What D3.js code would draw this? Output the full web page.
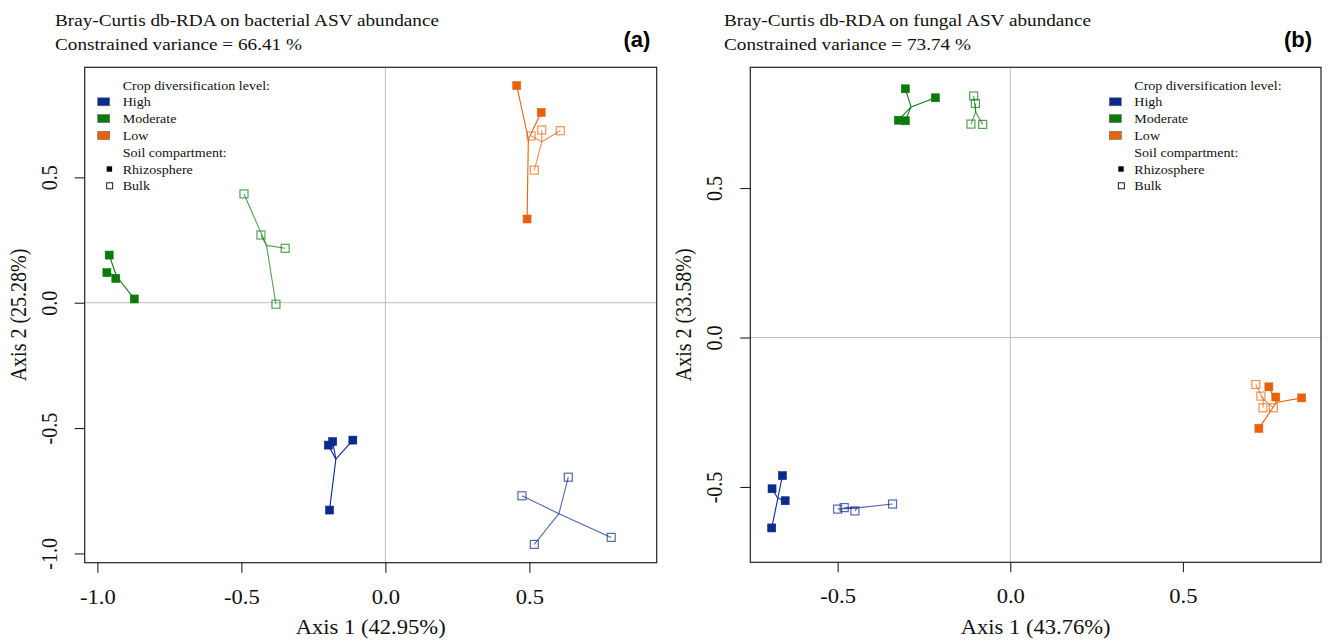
<!DOCTYPE html>
<html>
<head>
<meta charset="utf-8">
<script src="https://cdn.jsdelivr.net/npm/d3@7"></script>
<style>
  body { margin: 0; background: #fff; }
  text { font-family: "Liberation Serif", "Times New Roman", serif; fill: #111; }
  text.tag { font-family: "Liberation Sans", Arial, sans-serif; font-weight: bold; fill: #000; }
</style>
</head>
<body>
<svg id="viz" width="1327" height="640"></svg>
<script>
// db-RDA site scores: [Axis 1, Axis 2]

// bacterial
const bactHighRhizo = [[-0.198, -0.568], [-0.183, -0.554], [-0.113, -0.548], [-0.194, -0.827]];
const bactHighBulk  = [[0.474, -0.770], [0.635, -0.696], [0.784, -0.936], [0.517, -0.964]];
const bactModRhizo  = [[-0.959, 0.190], [-0.967, 0.120], [-0.936, 0.097], [-0.872, 0.015]];
const bactModBulk   = [[-0.491, 0.434], [-0.432, 0.270], [-0.348, 0.217], [-0.380, -0.006]];
const bactLowRhizo  = [[0.456, 0.866], [0.541, 0.759], [0.492, 0.334]];
const bactLowBulk   = [[0.506, 0.665], [0.543, 0.689], [0.607, 0.686], [0.517, 0.529]];

// fungal
const fungHighRhizo = [[-0.660, -0.462], [-0.690, -0.506], [-0.652, -0.546], [-0.691, -0.637]];
const fungHighBulk  = [[-0.500, -0.574], [-0.481, -0.569], [-0.450, -0.580], [-0.341, -0.557]];
const fungModRhizo  = [[-0.304, 0.832], [-0.217, 0.802], [-0.324, 0.727], [-0.304, 0.725]];
const fungModBulk   = [[-0.106, 0.808], [-0.101, 0.783], [-0.114, 0.714], [-0.080, 0.713]];
const fungLowRhizo  = [[0.749, -0.165], [0.769, -0.199], [0.844, -0.202], [0.720, -0.304]];
const fungLowBulk   = [[0.711, -0.157], [0.726, -0.196], [0.732, -0.235], [0.762, -0.235]];

const levels = ["High", "Moderate", "Low"];
const compartments = ["Rhizosphere", "Bulk"];

// axis limits and ticks
const bactXLim = [-1.044, 0.942], bactYLim = [-1.037, 0.939];
const fungXLim = [-0.753, 0.900], fungYLim = [-0.752, 0.904];
const bactXTicks = [-1.0, -0.5, 0.0, 0.5], bactYTicks = [-1.0, -0.5, 0.0, 0.5];
const fungXTicks = [-0.5, 0.0, 0.5], fungYTicks = [-0.5, 0.0, 0.5];

const bactTitle = ["Bray-Curtis db-RDA on bacterial ASV abundance", "Constrained variance = 66.41 %"];
const fungTitle = ["Bray-Curtis db-RDA on fungal ASV abundance", "Constrained variance = 73.74 %"];
const bactAxisLabels = ["Axis 1 (42.95%)", "Axis 2 (25.28%)"];
const fungAxisLabels = ["Axis 1 (43.76%)", "Axis 2 (33.58%)"];

var svg = d3.select("#viz");
var SX = 1.13; // the figure is a bit stretched sideways
var colors = { High: "#0a2a8c", Moderate: "#0b7a0b", Low: "#e8620c" };

const fmt = d => d.toFixed(1);

function stext(g, x, y, str, size, anchor, rot, sx) {
    return g.append("text")
        .attr("transform", `translate(${x},${y}) scale(${sx || SX},1)` + (rot ? " rotate(-90)" : ""))
        .attr("text-anchor", anchor || "start")
        .attr("font-size", size)
        .text(str);
}

function drawPanel(cfg) {
    var x = d3.scaleLinear().domain(cfg.xlim).range([cfg.box[0], cfg.box[1]]);
    var y = d3.scaleLinear().domain(cfg.ylim).range([cfg.box[3], cfg.box[2]]);
    var g = svg.append("g");

    // reference lines
    g.append("line").attr("x1", x(0)).attr("x2", x(0)).attr("y1", cfg.box[2]).attr("y2", cfg.box[3])
        .attr("stroke", "#bdbdbd").attr("stroke-width", 1);
    g.append("line").attr("x1", cfg.box[0]).attr("x2", cfg.box[1]).attr("y1", y(0)).attr("y2", y(0))
        .attr("stroke", "#bdbdbd").attr("stroke-width", 1);

    // points, then spiders on top
    cfg.groups.forEach(grp => {
        var col = colors[grp.level];
        var bulk = grp.comp === "Bulk";
        var cx = d3.mean(grp.pts, d => d[0]), cy = d3.mean(grp.pts, d => d[1]);
        g.append("g").selectAll("rect")
            .data(grp.pts)
            .enter()
            .append("rect")
            .attr("x", d => x(d[0]) - 4)
            .attr("y", d => y(d[1]) - 4)
            .attr("width", 8)
            .attr("height", 8)
            .attr("fill", bulk ? "none" : col)
            .attr("stroke", col)
            .attr("stroke-width", bulk ? 1.2 : 0.6)
            .attr("opacity", bulk ? 0.7 : 1);
        g.append("g").selectAll("line")
            .data(grp.pts)
            .enter()
            .append("line")
            .attr("x1", x(cx)).attr("y1", y(cy))
            .attr("x2", d => x(d[0])).attr("y2", d => y(d[1]))
            .attr("stroke", col)
            .attr("stroke-width", 1.1)
            .attr("opacity", bulk ? 0.7 : 1);
    });

    // box
    g.append("rect")
        .attr("x", cfg.box[0]).attr("y", cfg.box[2])
        .attr("width", cfg.box[1] - cfg.box[0]).attr("height", cfg.box[3] - cfg.box[2])
        .attr("fill", "none").attr("stroke", "#222").attr("stroke-width", 1.2);

    // axes
    var xa = g.append("g")
        .attr("transform", `translate(0,${cfg.box[3]})`)
        .call(d3.axisBottom(x).tickValues(cfg.xticks).tickFormat(fmt).tickSize(10));
    var ya = g.append("g")
        .attr("transform", `translate(${cfg.box[0]},0)`)
        .call(d3.axisLeft(y).tickValues(cfg.yticks).tickFormat(fmt).tickSize(10));
    [xa, ya].forEach(a => {
        a.select(".domain").remove();
        a.selectAll(".tick line").attr("stroke", "#222").attr("stroke-width", 1.1);
        a.selectAll("text").attr("font-size", 20).attr("fill", "#111");
    });
    xa.selectAll(".tick text").attr("y", null).attr("dy", null)
        .attr("transform", `translate(0,41) scale(${SX},1)`);
    ya.selectAll(".tick text").attr("x", null).attr("dy", null)
        .attr("text-anchor", "middle")
        .attr("transform", `translate(-28,0) scale(${SX},1) rotate(-90)`);

    var midX = (cfg.box[0] + cfg.box[1]) / 2, midY = (cfg.box[2] + cfg.box[3]) / 2;
    stext(g, midX, 634, cfg.axisLabels[0], 20, "middle");
    stext(g, cfg.box[0] - 59, midY, cfg.axisLabels[1], 20, "middle", true);

    // titles
    stext(g, cfg.titleX, 26, cfg.title[0], 17);
    stext(g, cfg.titleX, 50, cfg.title[1], 17);
    g.append("text")
        .attr("class", "tag")
        .attr("x", cfg.tagX).attr("y", 47)
        .attr("text-anchor", "middle")
        .attr("font-size", 22)
        .text(cfg.tag);

    // legend
    var lg = g.append("g");
    var lx = cfg.legendX, ly = 85, step = 16.8;
    var rows = ["Crop diversification level:"].concat(levels, ["Soil compartment:"], compartments);
    rows.forEach((r, i) => stext(lg, lx, ly + i * step + 4.5, r, 13, "start", false, 1.08));
    levels.forEach((lv, i) => {
        lg.append("rect")
            .attr("x", lx - 25).attr("y", ly + (i + 1) * step - 4)
            .attr("width", 12).attr("height", 8)
            .attr("fill", colors[lv]).attr("stroke", "#666").attr("stroke-width", 0.6);
    });
    lg.append("rect")
        .attr("x", lx - 16).attr("y", ly + 5 * step - 2.7)
        .attr("width", 5.4).attr("height", 5.4).attr("fill", "#000");
    lg.append("rect")
        .attr("x", lx - 16).attr("y", ly + 6 * step - 3)
        .attr("width", 6).attr("height", 6)
        .attr("fill", "none").attr("stroke", "#000").attr("stroke-width", 0.9);
}

drawPanel({
    box: [84.7, 656.7, 67.3, 562.7],
    xlim: bactXLim, ylim: bactYLim,
    xticks: bactXTicks, yticks: bactYTicks,
    title: bactTitle, axisLabels: bactAxisLabels,
    titleX: 55, tag: "(a)", tagX: 637, legendX: 122.7,
    groups: [
        { level: "High", comp: "Rhizosphere", pts: bactHighRhizo },
        { level: "High", comp: "Bulk", pts: bactHighBulk },
        { level: "Moderate", comp: "Rhizosphere", pts: bactModRhizo },
        { level: "Moderate", comp: "Bulk", pts: bactModBulk },
        { level: "Low", comp: "Rhizosphere", pts: bactLowRhizo },
        { level: "Low", comp: "Bulk", pts: bactLowBulk }
    ]
});

drawPanel({
    box: [750.3, 1321, 67.3, 562.3],
    xlim: fungXLim, ylim: fungYLim,
    xticks: fungXTicks, yticks: fungYTicks,
    title: fungTitle, axisLabels: fungAxisLabels,
    titleX: 724, tag: "(b)", tagX: 1298, legendX: 1134.3,
    groups: [
        { level: "High", comp: "Rhizosphere", pts: fungHighRhizo },
        { level: "High", comp: "Bulk", pts: fungHighBulk },
        { level: "Moderate", comp: "Rhizosphere", pts: fungModRhizo },
        { level: "Moderate", comp: "Bulk", pts: fungModBulk },
        { level: "Low", comp: "Rhizosphere", pts: fungLowRhizo },
        { level: "Low", comp: "Bulk", pts: fungLowBulk }
    ]
});
</script>
</body>
</html>
